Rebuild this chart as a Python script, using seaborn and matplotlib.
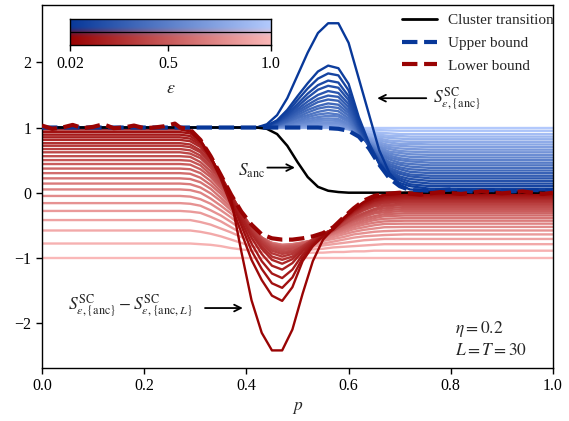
import numpy as np
import pandas as pd
import matplotlib
matplotlib.use("Agg")
import matplotlib.pyplot as plt
import seaborn as sns
from matplotlib.colors import LinearSegmentedColormap
from matplotlib.lines import Line2D

# ---------------- data ----------------
eps_values = [0.02, 0.061, 0.102, 0.143, 0.183, 0.224, 0.265, 0.306, 0.347, 0.388,
              0.428, 0.469, 0.51, 0.551, 0.592, 0.633, 0.673, 0.714, 0.755, 0.796,
              0.837, 0.878, 0.918, 0.959, 1.0]

red_p = [0.0, 0.27, 0.29, 0.31, 0.33, 0.35, 0.37, 0.39, 0.41, 0.43, 0.45, 0.47,
         0.49, 0.51, 0.53, 0.55, 0.57, 0.59, 0.61, 0.63, 0.65, 0.67, 0.71, 1.0]
red_curves = [
    [1.0, 1.0, 0.97, 0.80, 0.55, 0.25, -0.10, -0.90, -1.65, -2.15, -2.42, -2.42, -2.10, -1.55, -1.05, -0.72, -0.55, -0.39, -0.25, -0.14, -0.07, -0.03, 0.0, 0.0],
    [0.97, 0.97, 0.94, 0.81, 0.55, 0.21, -0.19, -0.61, -1.03, -1.34, -1.58, -1.66, -1.45, -1.05, -0.82, -0.67, -0.56, -0.40, -0.26, -0.15, -0.08, -0.04, -0.015, -0.015],
    [0.93, 0.93, 0.91, 0.79, 0.55, 0.24, -0.12, -0.50, -0.89, -1.17, -1.39, -1.46, -1.30, -1.00, -0.80, -0.66, -0.56, -0.40, -0.27, -0.17, -0.10, -0.06, -0.035, -0.035],
    [0.89, 0.89, 0.87, 0.76, 0.54, 0.25, -0.08, -0.43, -0.78, -1.05, -1.24, -1.31, -1.18, -0.95, -0.78, -0.65, -0.56, -0.41, -0.28, -0.18, -0.12, -0.08, -0.055, -0.055],
    [0.85, 0.85, 0.83, 0.73, 0.53, 0.26, -0.04, -0.37, -0.69, -0.94, -1.12, -1.18, -1.08, -0.90, -0.76, -0.64, -0.56, -0.41, -0.29, -0.20, -0.13, -0.10, -0.075, -0.075],
    [0.81, 0.81, 0.79, 0.70, 0.51, 0.26, -0.03, -0.33, -0.63, -0.86, -1.03, -1.09, -1.02, -0.87, -0.74, -0.64, -0.56, -0.42, -0.30, -0.21, -0.15, -0.12, -0.095, -0.095],
    [0.76, 0.76, 0.74, 0.65, 0.47, 0.24, -0.03, -0.31, -0.60, -0.82, -0.98, -1.03, -0.98, -0.85, -0.73, -0.63, -0.56, -0.43, -0.32, -0.23, -0.17, -0.14, -0.12, -0.12],
    [0.72, 0.72, 0.70, 0.62, 0.45, 0.23, -0.03, -0.30, -0.57, -0.78, -0.93, -0.98, -0.94, -0.83, -0.72, -0.63, -0.56, -0.43, -0.33, -0.25, -0.19, -0.16, -0.14, -0.14],
    [0.67, 0.67, 0.65, 0.57, 0.41, 0.20, -0.04, -0.30, -0.55, -0.75, -0.89, -0.94, -0.91, -0.82, -0.72, -0.63, -0.57, -0.45, -0.35, -0.27, -0.21, -0.19, -0.165, -0.165],
    [0.62, 0.62, 0.60, 0.53, 0.38, 0.18, -0.05, -0.30, -0.54, -0.73, -0.86, -0.91, -0.89, -0.84, -0.77, -0.68, -0.58, -0.48, -0.38, -0.31, -0.25, -0.21, -0.19, -0.19],
    [0.56, 0.56, 0.55, 0.47, 0.33, 0.14, -0.07, -0.30, -0.53, -0.71, -0.84, -0.88, -0.86, -0.81, -0.75, -0.67, -0.58, -0.48, -0.40, -0.33, -0.27, -0.24, -0.22, -0.22],
    [0.50, 0.50, 0.49, 0.42, 0.28, 0.11, -0.10, -0.32, -0.53, -0.70, -0.82, -0.86, -0.84, -0.80, -0.74, -0.66, -0.58, -0.49, -0.41, -0.35, -0.30, -0.27, -0.25, -0.25],
    [0.44, 0.44, 0.43, 0.36, 0.24, 0.07, -0.12, -0.33, -0.53, -0.69, -0.80, -0.84, -0.82, -0.78, -0.73, -0.66, -0.58, -0.50, -0.43, -0.37, -0.32, -0.30, -0.28, -0.28],
    [0.37, 0.37, 0.36, 0.30, 0.18, 0.02, -0.16, -0.35, -0.54, -0.69, -0.79, -0.83, -0.81, -0.78, -0.73, -0.67, -0.59, -0.52, -0.45, -0.40, -0.36, -0.33, -0.315, -0.315],
    [0.30, 0.30, 0.29, 0.23, 0.12, -0.02, -0.19, -0.37, -0.55, -0.69, -0.79, -0.82, -0.81, -0.77, -0.73, -0.67, -0.60, -0.54, -0.48, -0.43, -0.39, -0.36, -0.35, -0.35],
    [0.22, 0.22, 0.21, 0.16, 0.06, -0.08, -0.23, -0.40, -0.56, -0.69, -0.78, -0.81, -0.80, -0.77, -0.73, -0.68, -0.62, -0.56, -0.50, -0.46, -0.42, -0.40, -0.39, -0.39],
    [0.14, 0.14, 0.13, 0.08, -0.01, -0.13, -0.27, -0.42, -0.57, -0.69, -0.77, -0.80, -0.79, -0.76, -0.73, -0.68, -0.63, -0.58, -0.53, -0.49, -0.46, -0.44, -0.43, -0.43],
    [0.05, 0.05, 0.04, 0.00, -0.09, -0.20, -0.32, -0.46, -0.60, -0.70, -0.77, -0.80, -0.79, -0.77, -0.74, -0.70, -0.65, -0.61, -0.56, -0.53, -0.50, -0.48, -0.475, -0.475],
    [-0.05, -0.05, -0.06, -0.10, -0.17, -0.27, -0.38, -0.51, -0.63, -0.72, -0.79, -0.81, -0.80, -0.78, -0.75, -0.72, -0.68, -0.64, -0.60, -0.57, -0.55, -0.53, -0.525, -0.525],
    [-0.16, -0.16, -0.17, -0.20, -0.27, -0.35, -0.45, -0.56, -0.66, -0.74, -0.80, -0.82, -0.81, -0.80, -0.77, -0.74, -0.71, -0.68, -0.64, -0.62, -0.60, -0.59, -0.58, -0.58],
    [-0.28, -0.28, -0.29, -0.31, -0.37, -0.44, -0.53, -0.62, -0.71, -0.77, -0.82, -0.84, -0.83, -0.82, -0.80, -0.78, -0.75, -0.72, -0.69, -0.67, -0.66, -0.65, -0.64, -0.64],
    [-0.42, -0.42, -0.42, -0.45, -0.49, -0.55, -0.61, -0.68, -0.75, -0.81, -0.85, -0.86, -0.86, -0.85, -0.83, -0.81, -0.79, -0.77, -0.75, -0.73, -0.72, -0.71, -0.71, -0.71],
    [-0.58, -0.58, -0.58, -0.60, -0.63, -0.67, -0.72, -0.77, -0.82, -0.85, -0.88, -0.89, -0.89, -0.88, -0.87, -0.86, -0.84, -0.83, -0.82, -0.81, -0.80, -0.79, -0.79, -0.79],
    [-0.78, -0.78, -0.78, -0.79, -0.80, -0.82, -0.85, -0.87, -0.89, -0.91, -0.93, -0.93, -0.93, -0.93, -0.92, -0.92, -0.91, -0.91, -0.90, -0.90, -0.89, -0.89, -0.89, -0.89],
    [-1.0, -1.0, -1.0, -1.0, -1.0, -1.0, -1.0, -1.0, -1.0, -1.0, -1.0, -1.0, -1.0, -1.0, -1.0, -1.0, -1.0, -1.0, -1.0, -1.0, -1.0, -1.0, -1.0, -1.0],
]

blue_p = [0.0, 0.42, 0.44, 0.46, 0.48, 0.50, 0.52, 0.54, 0.56, 0.58,
          0.60, 0.62, 0.64, 0.66, 0.68, 0.70, 0.72, 0.76, 1.0]
blue_curves = [
    [1.0, 1.0, 1.05, 1.19, 1.45, 1.80, 2.15, 2.45, 2.60, 2.60, 2.30, 1.75, 1.20, 0.65, 0.30, 0.12, 0.05, 0.03, 0.03],
    [1.0, 1.0, 1.03, 1.11, 1.27, 1.48, 1.68, 1.86, 1.95, 1.91, 1.67, 1.16, 0.76, 0.44, 0.25, 0.15, 0.10, 0.06, 0.06],
    [1.0, 1.0, 1.02, 1.10, 1.23, 1.42, 1.60, 1.75, 1.83, 1.80, 1.57, 1.10, 0.74, 0.45, 0.27, 0.19, 0.13, 0.10, 0.10],
    [1.0, 1.0, 1.02, 1.09, 1.20, 1.36, 1.52, 1.65, 1.72, 1.69, 1.48, 1.06, 0.72, 0.46, 0.30, 0.22, 0.17, 0.14, 0.14],
    [1.0, 1.0, 1.02, 1.08, 1.18, 1.32, 1.46, 1.58, 1.64, 1.61, 1.42, 1.03, 0.72, 0.47, 0.33, 0.25, 0.21, 0.18, 0.18],
    [1.0, 1.0, 1.02, 1.07, 1.16, 1.28, 1.40, 1.50, 1.56, 1.53, 1.36, 1.00, 0.72, 0.49, 0.35, 0.29, 0.25, 0.22, 0.22],
    [1.0, 1.0, 1.01, 1.06, 1.14, 1.25, 1.35, 1.44, 1.49, 1.47, 1.31, 0.97, 0.71, 0.51, 0.38, 0.32, 0.28, 0.26, 0.26],
    [1.0, 1.0, 1.01, 1.05, 1.12, 1.22, 1.31, 1.39, 1.43, 1.41, 1.26, 0.96, 0.72, 0.53, 0.41, 0.36, 0.32, 0.30, 0.30],
    [1.0, 1.0, 1.01, 1.04, 1.10, 1.19, 1.27, 1.33, 1.37, 1.35, 1.22, 0.94, 0.72, 0.55, 0.44, 0.39, 0.36, 0.34, 0.34],
    [1.0, 1.0, 1.01, 1.04, 1.09, 1.16, 1.23, 1.29, 1.32, 1.30, 1.18, 0.93, 0.73, 0.57, 0.47, 0.43, 0.40, 0.38, 0.38],
    [1.0, 1.0, 1.01, 1.03, 1.08, 1.14, 1.19, 1.24, 1.27, 1.25, 1.14, 0.91, 0.73, 0.59, 0.51, 0.46, 0.44, 0.42, 0.42],
    [1.0, 1.0, 1.01, 1.03, 1.06, 1.11, 1.16, 1.20, 1.22, 1.20, 1.11, 0.90, 0.74, 0.61, 0.54, 0.50, 0.48, 0.46, 0.46],
    [1.0, 1.0, 1.01, 1.02, 1.05, 1.09, 1.13, 1.16, 1.18, 1.17, 1.08, 0.89, 0.75, 0.64, 0.57, 0.53, 0.51, 0.50, 0.50],
    [1.0, 1.0, 1.00, 1.02, 1.04, 1.07, 1.10, 1.13, 1.14, 1.13, 1.05, 0.89, 0.76, 0.66, 0.60, 0.57, 0.55, 0.54, 0.54],
    [1.0, 1.0, 1.00, 1.01, 1.03, 1.06, 1.08, 1.10, 1.11, 1.10, 1.03, 0.89, 0.78, 0.69, 0.63, 0.61, 0.59, 0.58, 0.58],
    [1.0, 1.0, 1.00, 1.01, 1.02, 1.04, 1.06, 1.07, 1.08, 1.07, 1.01, 0.89, 0.79, 0.71, 0.67, 0.64, 0.63, 0.62, 0.62],
    [1.0, 1.0, 1.00, 1.01, 1.02, 1.03, 1.04, 1.05, 1.06, 1.05, 1.00, 0.89, 0.81, 0.74, 0.70, 0.68, 0.67, 0.66, 0.66],
    [1.0, 1.0, 1.00, 1.00, 1.01, 1.02, 1.03, 1.04, 1.04, 1.03, 0.99, 0.90, 0.83, 0.77, 0.73, 0.72, 0.71, 0.70, 0.70],
    [1.0, 1.0, 1.00, 1.00, 1.01, 1.01, 1.01, 1.02, 1.02, 1.01, 0.98, 0.90, 0.84, 0.80, 0.77, 0.75, 0.75, 0.74, 0.74],
    [1.0, 1.0, 1.00, 1.00, 1.00, 1.00, 1.01, 1.01, 1.01, 1.01, 0.98, 0.91, 0.86, 0.83, 0.80, 0.79, 0.78, 0.78, 0.78],
    [1.0, 1.0, 1.0, 1.0, 1.0, 1.0, 1.0, 1.0, 1.0, 1.0, 0.97, 0.92, 0.89, 0.86, 0.84, 0.83, 0.82, 0.82, 0.82],
    [1.0, 1.0, 1.0, 1.0, 1.0, 1.0, 1.0, 1.0, 1.0, 1.0, 0.98, 0.94, 0.91, 0.89, 0.87, 0.87, 0.86, 0.86, 0.86],
    [1.0, 1.0, 1.0, 1.0, 1.0, 1.0, 1.0, 1.0, 1.0, 1.0, 0.99, 0.96, 0.94, 0.92, 0.91, 0.90, 0.90, 0.90, 0.90],
    [1.0, 1.0, 1.0, 1.0, 1.0, 1.0, 1.0, 1.0, 1.0, 1.0, 0.99, 0.98, 0.97, 0.96, 0.955, 0.95, 0.95, 0.95, 0.95],
    [1.0, 1.0, 1.0, 1.0, 1.0, 1.0, 1.0, 1.0, 1.0, 1.0, 1.0, 1.0, 1.0, 1.0, 1.0, 1.0, 1.0, 1.0, 1.0],
]

cluster_p = [0.0, 0.42, 0.44, 0.46, 0.48, 0.50, 0.52, 0.54, 0.56, 0.58, 0.60, 1.0]
cluster_S = [1.0, 1.0, 0.98, 0.90, 0.72, 0.47, 0.24, 0.09, 0.03, 0.01, 0.0, 0.0]

upper_p = [0.0, 0.50, 0.54, 0.56, 0.58, 0.60, 0.62, 0.64, 0.66, 0.68, 0.70, 0.72,
           0.76, 0.80, 0.84, 0.88, 0.92, 0.96, 1.0]
upper_S = [1.0, 1.0, 1.0, 0.99, 0.98, 0.95, 0.86, 0.68, 0.43, 0.22, 0.10, 0.04,
           0.03, 0.05, 0.02, 0.04, 0.02, 0.04, 0.03]

lower_p = [0.0, 0.02, 0.04, 0.06, 0.08, 0.10, 0.12, 0.14, 0.16, 0.18, 0.20, 0.22,
           0.24, 0.26, 0.27, 0.29, 0.31, 0.33, 0.35, 0.37, 0.39, 0.41, 0.43, 0.45,
           0.47, 0.49, 0.51, 0.53, 0.55, 0.57, 0.59, 0.61, 0.63, 0.65, 0.67, 0.70,
           0.74, 0.78, 0.82, 0.86, 0.90, 0.94, 0.98, 1.0]
lower_S = [1.03, 0.98, 1.00, 1.04, 0.99, 1.01, 1.05, 0.99, 1.00, 1.03, 0.99, 1.00,
           1.02, 1.06, 1.00, 0.97, 0.81, 0.56, 0.27, -0.03, -0.29, -0.49, -0.64, -0.70,
           -0.72, -0.72, -0.70, -0.67, -0.62, -0.53, -0.38, -0.24, -0.12, -0.05, -0.02, 0.00,
           -0.03, 0.01, -0.02, 0.02, -0.01, 0.02, -0.02, 0.00]

cbar_ticks = [0.02, 0.5, 1.0]
cbar_ticklabels = ["0.02", "0.5", "1.0"]

# ---------------- style ----------------
sns.set_theme(style="ticks")
plt.rcParams["font.family"] = ["Liberation Serif", "DejaVu Serif"]
plt.rcParams["mathtext.fontset"] = "stix"
plt.rcParams["axes.unicode_minus"] = True

blue_cmap = LinearSegmentedColormap.from_list("bl", [(0.03, 0.22, 0.60), (0.70, 0.79, 0.99)])
red_cmap = LinearSegmentedColormap.from_list("rd", [(0.60, 0.01, 0.01), (0.98, 0.72, 0.72)])

def norm(e):
    return (e - 0.02) / (1.0 - 0.02)

blue_pal = {e: blue_cmap(norm(e)) for e in eps_values}
red_pal = {e: red_cmap(norm(e)) for e in eps_values}

rows_r = []
for e, vals in zip(eps_values, red_curves):
    assert len(vals) == len(red_p)
    rows_r += [(e, pp, v) for pp, v in zip(red_p, vals)]
df_red = pd.DataFrame(rows_r, columns=["eps", "p", "S"])

rows_b = []
for e, vals in zip(eps_values, blue_curves):
    assert len(vals) == len(blue_p)
    rows_b += [(e, pp, v) for pp, v in zip(blue_p, vals)]
df_blue = pd.DataFrame(rows_b, columns=["eps", "p", "S"])

hue_order = list(reversed(eps_values))  # light first, dark on top

fig = plt.figure(figsize=(5.69, 4.21), dpi=100)
ax = fig.add_axes([42 / 569, 1 - 368 / 421, (553 - 42) / 569, (368 - 5) / 421])

sns.lineplot(data=df_red, x="p", y="S", hue="eps", hue_order=hue_order, palette=red_pal,
             estimator=None, sort=True, lw=1.7, legend=False, ax=ax, zorder=2)
sns.lineplot(data=df_blue, x="p", y="S", hue="eps", hue_order=hue_order, palette=blue_pal,
             estimator=None, sort=True, lw=1.7, legend=False, ax=ax, zorder=2.2)
sns.lineplot(x=cluster_p, y=cluster_S, color="black", lw=1.8, ax=ax, zorder=3)
sns.lineplot(x=upper_p, y=upper_S, color=blue_cmap(0.0), lw=3.0, linestyle="--", ax=ax, zorder=4)
sns.lineplot(x=lower_p, y=lower_S, color=red_cmap(0.0), lw=3.0, linestyle="--", ax=ax, zorder=5)

ax.set_xlim(0, 1)
ax.set_ylim(-2.69, 2.88)
ax.set_xticks([0.0, 0.2, 0.4, 0.6, 0.8, 1.0])
ax.set_xticklabels(["0.0", "0.2", "0.4", "0.6", "0.8", "1.0"])
ax.set_yticks([-2, -1, 0, 1, 2])
ax.set_yticklabels(["\u22122", "\u22121", "0", "1", "2"])
ax.tick_params(labelsize=11.5, length=4, width=1, direction="out", colors="black")
for s in ax.spines.values():
    s.set_visible(True)
    s.set_linewidth(1.0)
    s.set_color("black")
ax.set_xlabel(r"$p$", fontsize=12.5, labelpad=4)
ax.set_ylabel("")

# legend
handles = [Line2D([], [], color="black", lw=2),
           Line2D([], [], color=blue_cmap(0.0), lw=3, ls="--"),
           Line2D([], [], color=red_cmap(0.0), lw=3, ls="--")]
ax.legend(handles, ["Cluster transition", "Upper bound", "Lower bound"],
          loc="upper right", bbox_to_anchor=(1.018, 1.0), frameon=False, fontsize=11,
          handlelength=2.3, labelspacing=0.6, borderaxespad=0.15, handletextpad=0.7)

# annotations
arw = dict(arrowstyle="->", color="black", lw=1.3, shrinkA=0, shrinkB=0)
ax.annotate("", xy=(0.656, 1.45), xytext=(0.752, 1.45), arrowprops=arw)
ax.text(0.765, 1.45, r"$S^{\mathrm{SC}}_{\varepsilon,\{\mathrm{anc}\}}$", fontsize=12.5,
        ha="left", va="center")
ax.annotate("", xy=(0.495, 0.385), xytext=(0.441, 0.385), arrowprops=arw)
ax.text(0.436, 0.34, r"$S_{\mathrm{anc}}$", fontsize=12.5, ha="right", va="center")
ax.annotate("", xy=(0.393, -1.77), xytext=(0.319, -1.77), arrowprops=arw)
ax.text(0.051, -1.74,
        r"$S^{\mathrm{SC}}_{\varepsilon,\{\mathrm{anc}\}}-S^{\mathrm{SC}}_{\varepsilon,\{\mathrm{anc},L\}}$",
        fontsize=12.5, ha="left", va="center")
ax.text(0.808, -2.09, r"$\eta=0.2$", fontsize=12.5, ha="left", va="center")
ax.text(0.808, -2.43, r"$L=T=30$", fontsize=12.5, ha="left", va="center")

# colour bar (two stacked gradients)
cax = fig.add_axes([70 / 569, 1 - 45 / 421, 201 / 569, 26 / 421])
grad = np.linspace(0, 1, 256)
img = np.stack([blue_cmap(grad)[:, :3], red_cmap(grad)[:, :3]], axis=0)
cax.imshow(img, extent=(0.02, 1.0, 0, 1), aspect="auto", origin="upper")
cax.axhline(0.5, color="black", lw=0.9)
cax.set_yticks([])
cax.set_xticks(cbar_ticks)
cax.set_xticklabels(cbar_ticklabels)
cax.tick_params(labelsize=11.5, length=4, width=1, colors="black", pad=4)
for s in cax.spines.values():
    s.set_linewidth(1.0)
    s.set_color("black")
cax.set_xlabel(r"$\varepsilon$", fontsize=13, labelpad=6)

fig.savefig("out.png", dpi=100)
